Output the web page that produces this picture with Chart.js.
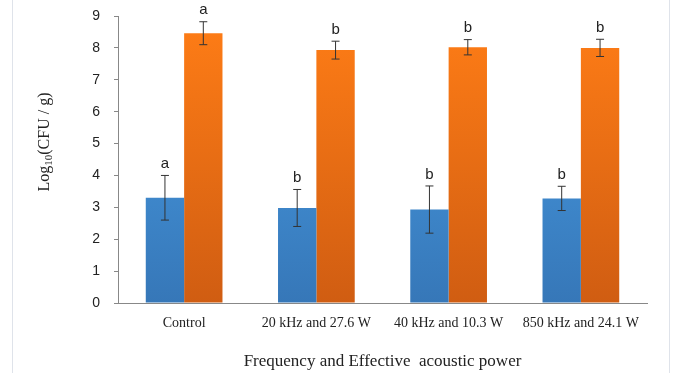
<!DOCTYPE html>
<html>
<head>
<meta charset="utf-8">
<script src="https://cdn.jsdelivr.net/npm/chart.js@4.4.0/dist/chart.umd.min.js"></script>
<style>
  body { margin: 0; background: #fff; }
  .wrap { position: relative; width: 675px; height: 373px; }
  .frame { position: absolute; left: 12px; top: 0; width: 656px; height: 373px;
           border-left: 1px solid #dfe3ea; border-right: 1px solid #dfe3ea; }
  canvas { display: block; }
</style>
</head>
<body>
<div class="wrap">
  <div class="frame"></div>
  <canvas id="myChart" width="675" height="373"></canvas>
</div>
<script>
const categories = ["Control", "20 kHz and 27.6 W", "40 kHz and 10.3 W", "850 kHz and 24.1 W"];
const blueValues = [3.3, 2.98, 2.93, 3.28];
const blueErrors = [0.7, 0.58, 0.74, 0.38];
const blueLetters = ["a", "b", "b", "b"];
const orangeValues = [8.46, 7.93, 8.02, 8.0];
const orangeErrors = [0.36, 0.28, 0.24, 0.27];
const orangeLetters = ["a", "b", "b", "b"];
const yTicks = [0, 1, 2, 3, 4, 5, 6, 7, 8, 9];

const gradient = (ctx, top, bottom) => {
  const area = ctx.chart.chartArea;
  if (!area) return top;
  const g = ctx.chart.ctx.createLinearGradient(0, area.top, 0, area.bottom);
  g.addColorStop(0, top);
  g.addColorStop(1, bottom);
  return g;
};

const errorBars = {
  id: "errorBars",
  afterDatasetsDraw(chart) {
    const ctx = chart.ctx;
    const y = chart.scales.y;
    chart.data.datasets.forEach((ds, i) => {
      const meta = chart.getDatasetMeta(i);
      meta.data.forEach((bar, j) => {
        const v = ds.data[j];
        const e = ds.errors[j];
        const yTop = y.getPixelForValue(v + e);
        const yBot = y.getPixelForValue(v - e);
        ctx.save();
        ctx.strokeStyle = "#333";
        ctx.lineWidth = 1;
        ctx.beginPath();
        ctx.moveTo(bar.x, yTop);
        ctx.lineTo(bar.x, yBot);
        ctx.moveTo(bar.x - 4, yTop);
        ctx.lineTo(bar.x + 4, yTop);
        ctx.moveTo(bar.x - 4, yBot);
        ctx.lineTo(bar.x + 4, yBot);
        ctx.stroke();
        ctx.fillStyle = "#222";
        ctx.font = "15px 'Liberation Sans', Arial, sans-serif";
        ctx.textAlign = "center";
        ctx.textBaseline = "bottom";
        ctx.fillText(ds.letters[j], bar.x, yTop - 4);
        ctx.restore();
      });
    });
  }
};

const yTitle = {
  id: "yTitle",
  afterDraw(chart) {
    const ctx = chart.ctx;
    ctx.save();
    ctx.translate(45, 142);
    ctx.rotate(-Math.PI / 2);
    ctx.fillStyle = "#222";
    ctx.textBaseline = "middle";
    const big = "16px 'Liberation Serif', 'Times New Roman', serif";
    const small = "11px 'Liberation Serif', 'Times New Roman', serif";
    const parts = [["Log", big, 0], ["10", small, 4], ["(CFU / g)", big, 0]];
    let total = 0;
    parts.forEach(p => { ctx.font = p[1]; total += ctx.measureText(p[0]).width; });
    let x = -total / 2;
    parts.forEach(p => {
      ctx.font = p[1];
      ctx.fillText(p[0], x, p[2]);
      x += ctx.measureText(p[0]).width;
    });
    ctx.restore();
  }
};

const ctx = document.getElementById("myChart").getContext("2d");
const myChart = new Chart(ctx, {
  type: "bar",
  data: {
    labels: categories,
    datasets: [
      {
        data: blueValues,
        errors: blueErrors,
        letters: blueLetters,
        backgroundColor: (c) => gradient(c, "#4aa0e8", "#3677b8"),
        borderWidth: 0,
        categoryPercentage: 0.58,
        barPercentage: 1.0,
      },
      {
        data: orangeValues,
        errors: orangeErrors,
        letters: orangeLetters,
        backgroundColor: (c) => gradient(c, "#ff7d16", "#d05d12"),
        borderWidth: 0,
        categoryPercentage: 0.58,
        barPercentage: 1.0,
      },
    ],
  },
  plugins: [errorBars, yTitle],
  options: {
    responsive: false,
    animation: false,
    layout: { padding: { left: 0, right: 28, top: 16, bottom: 0 } },
    plugins: { legend: { display: false }, tooltip: { enabled: false } },
    scales: {
      x: {
        grid: { display: false, drawTicks: false },
        border: { color: "#888", width: 1 },
        ticks: {
          color: "#222",
          padding: 12,
          font: { family: "'Liberation Serif', 'Times New Roman', serif", size: 14 },
        },
        title: {
          display: true,
          text: "Frequency and Effective  acoustic power",
          color: "#222",
          font: { family: "'Liberation Serif', 'Times New Roman', serif", size: 17 },
          padding: { top: 4, bottom: 1 },
        },
        afterFit: (s) => { s.height = 70; },
      },
      y: {
        min: 0,
        max: 9,
        afterBuildTicks: (s) => { s.ticks = yTicks.map(v => ({ value: v })); },
        grid: { drawOnChartArea: false, tickLength: 4, color: "#888" },
        border: { color: "#888", width: 1 },
        ticks: {
          color: "#222",
          padding: 14,
          font: { family: "'Liberation Sans', Arial, sans-serif", size: 14 },
        },
        afterFit: (s) => {
          s.width = 118;
          s.paddingTop = 0;
          s.paddingBottom = 0;
        },
      },
    },
  },
});
</script>
</body>
</html>
